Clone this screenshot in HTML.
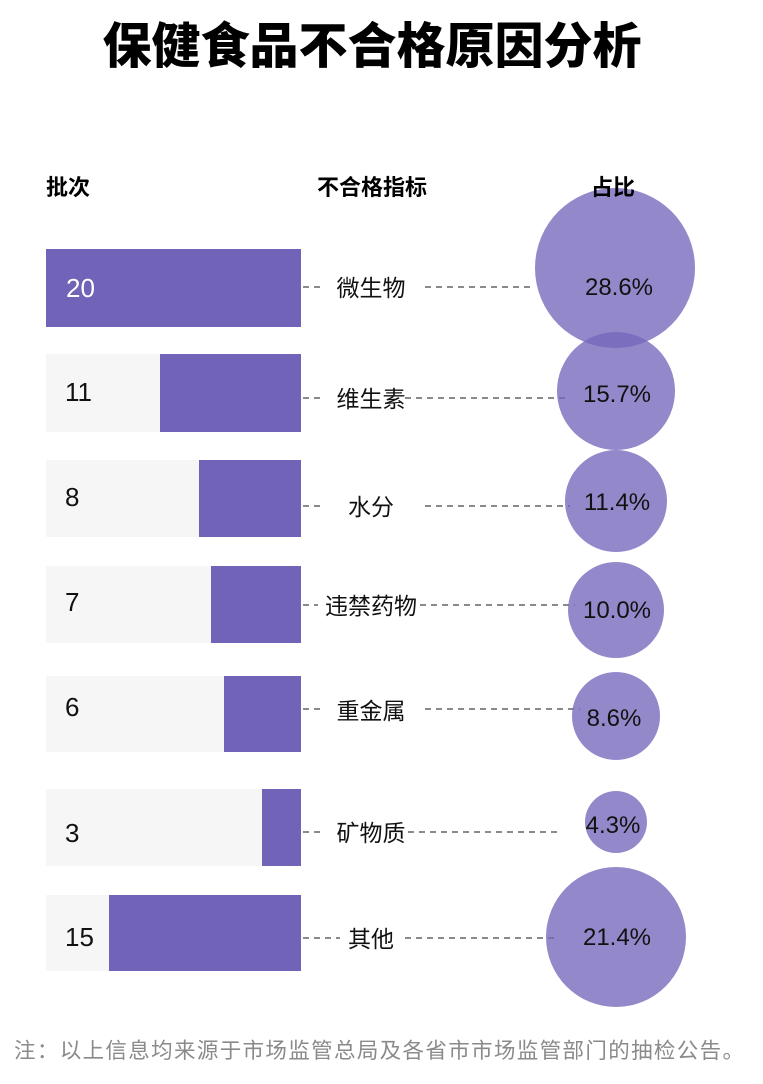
<!DOCTYPE html>
<html><head><meta charset="utf-8"><style>
body{margin:0;background:#fff;width:763px;height:1079px;overflow:hidden}
svg text{font-family:"Liberation Sans","Noto Sans CJK SC",sans-serif}
</style></head><body>
<svg width="763" height="1079" xmlns="http://www.w3.org/2000/svg">
<text x="372" y="63" font-size="49" font-weight="900" text-anchor="middle" fill="#000" style="font-family:'Noto Sans CJK SC',sans-serif">保健食品不合格原因分析</text>
<g fill="#f6f6f6">
<rect x="46" y="249" width="255" height="78"/><rect x="46" y="354" width="255" height="78"/><rect x="46" y="460" width="255" height="77"/><rect x="46" y="566" width="255" height="77"/><rect x="46" y="676" width="255" height="76"/><rect x="46" y="789" width="255" height="77"/><rect x="46" y="895" width="255" height="76"/>
</g>
<g fill="#7063b8">
<rect x="46" y="249" width="255" height="78"/><rect x="160" y="354" width="141" height="78"/><rect x="199" y="460" width="102" height="77"/><rect x="211" y="566" width="90" height="77"/><rect x="224" y="676" width="77" height="76"/><rect x="262" y="789" width="39" height="77"/><rect x="109" y="895" width="192" height="76"/>
</g>
<g font-size="26" fill="#111">
<text x="66" y="297" fill="#fff">20</text><text x="65" y="401">11</text><text x="65" y="506">8</text><text x="65" y="611">7</text><text x="65" y="716">6</text><text x="65" y="842">3</text><text x="65" y="946">15</text>
</g>
<g stroke="#444" stroke-width="1.3" stroke-dasharray="6,5">
<line x1="303" y1="287" x2="322" y2="287"/><line x1="425" y1="287" x2="535" y2="287"/>
<line x1="303" y1="398" x2="322" y2="398"/><line x1="405" y1="398" x2="570" y2="398"/>
<line x1="303" y1="506" x2="322" y2="506"/><line x1="425" y1="506" x2="570" y2="506"/>
<line x1="303" y1="605" x2="318" y2="605"/><line x1="420" y1="605" x2="575" y2="605"/>
<line x1="303" y1="709" x2="322" y2="709"/><line x1="425" y1="709" x2="580" y2="709"/>
<line x1="303" y1="832" x2="322" y2="832"/><line x1="408" y1="832" x2="560" y2="832"/>
<line x1="303" y1="938" x2="340" y2="938"/><line x1="405" y1="938" x2="558" y2="938"/>
</g>
<g font-size="23" fill="#111" text-anchor="middle">
<text x="371" y="296">微生物</text><text x="371" y="407">维生素</text><text x="371" y="515">水分</text><text x="371" y="614">违禁药物</text><text x="371" y="719">重金属</text><text x="371" y="841">矿物质</text><text x="371" y="947">其他</text>
</g>
<g fill="#7466bb" fill-opacity="0.78">
<circle cx="615" cy="268" r="80"/><circle cx="616" cy="391" r="59"/><circle cx="616" cy="501" r="51"/><circle cx="616" cy="610" r="48"/><circle cx="616" cy="716" r="44"/><circle cx="616" cy="822" r="31"/><circle cx="616" cy="937" r="70"/>
</g>
<text x="46" y="195" font-size="22" font-weight="bold" fill="#000" style="font-family:'Noto Sans CJK SC',sans-serif">批次</text>
<text x="372" y="195" font-size="22" font-weight="bold" fill="#000" text-anchor="middle" style="font-family:'Noto Sans CJK SC',sans-serif">不合格指标</text>
<text x="613" y="195" font-size="22" font-weight="bold" fill="#000" text-anchor="middle" style="font-family:'Noto Sans CJK SC',sans-serif">占比</text>
<g font-size="24" fill="#111" text-anchor="middle">
<text x="619" y="295">28.6%</text><text x="617" y="402">15.7%</text><text x="617" y="510">11.4%</text><text x="617" y="618">10.0%</text><text x="614" y="726">8.6%</text><text x="613" y="833">4.3%</text><text x="617" y="945">21.4%</text>
</g>
<text x="14" y="1058" font-size="21.5" fill="#8a8a8a" textLength="730">注：以上信息均来源于市场监管总局及各省市市场监管部门的抽检公告。</text>
</svg>
</body></html>
